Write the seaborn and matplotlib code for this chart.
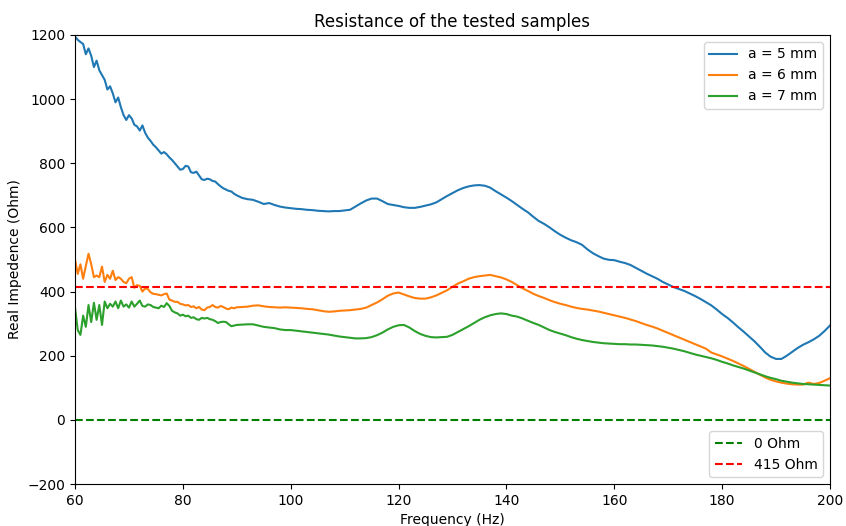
import numpy as np
import pandas as pd
import matplotlib
matplotlib.use("Agg")
import matplotlib.pyplot as plt
import seaborn as sns

# Frequency grid: 0.5 Hz steps in the noisy low band, 1 Hz above
freq = np.concatenate([np.arange(60, 90.5, 0.5), np.arange(91, 201, 1)])

res_5mm = [
    1195, 1185, 1178, 1172, 1140, 1158, 1135, 1100, 1120, 1090,
    1075, 1060, 1030, 1040, 1018, 990, 1005, 975, 950, 935,
    950, 940, 920, 915, 902, 918, 895, 880, 870, 858,
    850, 840, 830, 835, 828, 818, 810, 800, 790, 780,
    782, 792, 790, 772, 770, 774, 762, 750, 748, 752,
    750, 745, 743, 735, 728, 722, 718, 714, 712, 705,
    700,
    692, 688, 686, 680, 673, 676, 670, 665, 662, 660,
    658, 657, 655, 654, 652, 651, 650, 651, 651, 653,
    655, 665, 675, 684, 690, 690, 682, 673, 670, 667,
    663, 661, 661, 664, 668, 672, 678, 688, 698, 707,
    716, 723, 728, 731, 732, 730, 724, 713, 703, 693,
    682, 670, 658, 647, 633, 620, 611, 600, 588, 577,
    568, 560, 554, 546, 532, 520, 511, 503, 499, 498,
    493, 489, 483, 474, 465, 456, 448, 440, 430, 422,
    414, 408, 402, 394, 386, 377, 367, 357, 344, 330,
    318, 304, 289, 275, 260, 245, 228, 210, 197, 190,
    190, 200, 212, 224, 234, 242, 251, 262, 277, 294,
]

res_6mm = [
    500, 455, 485, 440, 480, 518, 485, 445, 450, 445,
    478, 430, 452, 440, 465, 436, 445, 440, 430, 426,
    440, 445, 412, 420, 418, 400, 410, 408, 398, 393,
    392, 390, 388, 392, 394, 375, 372, 368, 368, 362,
    360, 357, 358, 352, 354, 348, 352, 344, 342, 350,
    352, 358, 352, 350, 355, 352, 347, 345, 350, 348,
    351,
    352, 353, 356, 357, 354, 352, 351, 350, 351, 350,
    349, 348, 346, 345, 342, 339, 337, 338, 340, 341,
    342, 344, 346, 350, 358, 366, 376, 387, 394, 397,
    391, 385, 380, 378, 378, 382, 388, 396, 404, 415,
    425, 432, 440, 445, 448, 450, 452, 448, 444, 438,
    430, 420, 410, 402, 393, 386, 380, 373, 367, 362,
    358, 353, 349, 346, 344, 341, 338, 334, 330, 326,
    322, 318, 313, 308, 302, 296, 291, 285, 278, 271,
    264, 257, 250, 243, 236, 229, 222, 210, 204, 198,
    191, 184, 176, 168, 159, 150, 141, 132, 125, 120,
    116, 113, 111, 110, 110, 116, 112, 115, 122, 130,
]

res_7mm = [
    350, 280, 265, 325, 290, 358, 305, 365, 312, 358,
    296, 369, 348, 362, 353, 369, 348, 372, 353, 360,
    350, 369, 353, 362, 372, 355, 353, 360, 358, 352,
    350, 348, 356, 352, 364, 355, 340, 335, 332, 325,
    328, 323, 325, 318, 320, 314, 312, 318, 316, 318,
    314, 312, 308, 302, 305, 306, 305, 298, 292, 294,
    296,
    297, 298, 298, 294, 290, 288, 286, 282, 280, 280,
    278, 276, 274, 272, 270, 268, 266, 263, 260, 258,
    256, 254, 254, 255, 258, 264, 272, 282, 290, 295,
    296, 288, 277, 268, 262, 258, 257, 258, 259, 265,
    274, 283, 292, 302, 312, 320, 326, 330, 332, 330,
    325, 322, 316, 309, 302, 296, 288, 280, 274, 269,
    264, 258, 253, 249, 246, 243, 241, 239, 238, 237,
    236, 236, 235, 235, 234, 233, 232, 230, 228, 225,
    222, 218, 214, 209, 204, 200, 196, 192, 187, 181,
    176, 170, 165, 160, 154, 148, 142, 136, 131, 127,
    122, 119, 116, 114, 112, 111, 110, 109, 108, 107,
]

series_labels = ["a = 5 mm", "a = 6 mm", "a = 7 mm"]
ref_levels = [0, 415]
ref_labels = ["0 Ohm", "415 Ohm"]
ref_colors = ["green", "red"]

fig, ax = plt.subplots(figsize=(8.46, 5.26), dpi=100)
fig.subplots_adjust(left=0.0887, right=0.981, top=0.9335, bottom=0.0798)

palette = sns.color_palette("tab10", 3)
curves = []
for vals, lab, col in zip([res_5mm, res_6mm, res_7mm], series_labels, palette):
    df = pd.DataFrame({"Frequency": freq, "Resistance": vals})
    sns.lineplot(data=df, x="Frequency", y="Resistance", ax=ax,
                 color=col, linewidth=1.5, label=lab, legend=False)
curves = ax.get_lines()[:3]

refs = []
for lvl, lab, col in zip(ref_levels, ref_labels, ref_colors):
    refs.append(ax.axhline(lvl, color=col, linestyle="--", linewidth=1.5, label=lab))

leg1 = ax.legend(handles=curves, labels=series_labels, loc="upper right")
ax.add_artist(leg1)
ax.legend(handles=refs, labels=ref_labels, loc="lower right")

ax.set_xlim(60, 200)
ax.set_ylim(-200, 1200)
ax.set_xticks(np.arange(60, 201, 20))
ax.set_yticks(np.arange(-200, 1201, 200))
ax.set_title("Resistance of the tested samples")
ax.set_xlabel("Frequency (Hz)")
ax.set_ylabel("Real Impedence (Ohm)")

fig.savefig("out.png", dpi=100)
